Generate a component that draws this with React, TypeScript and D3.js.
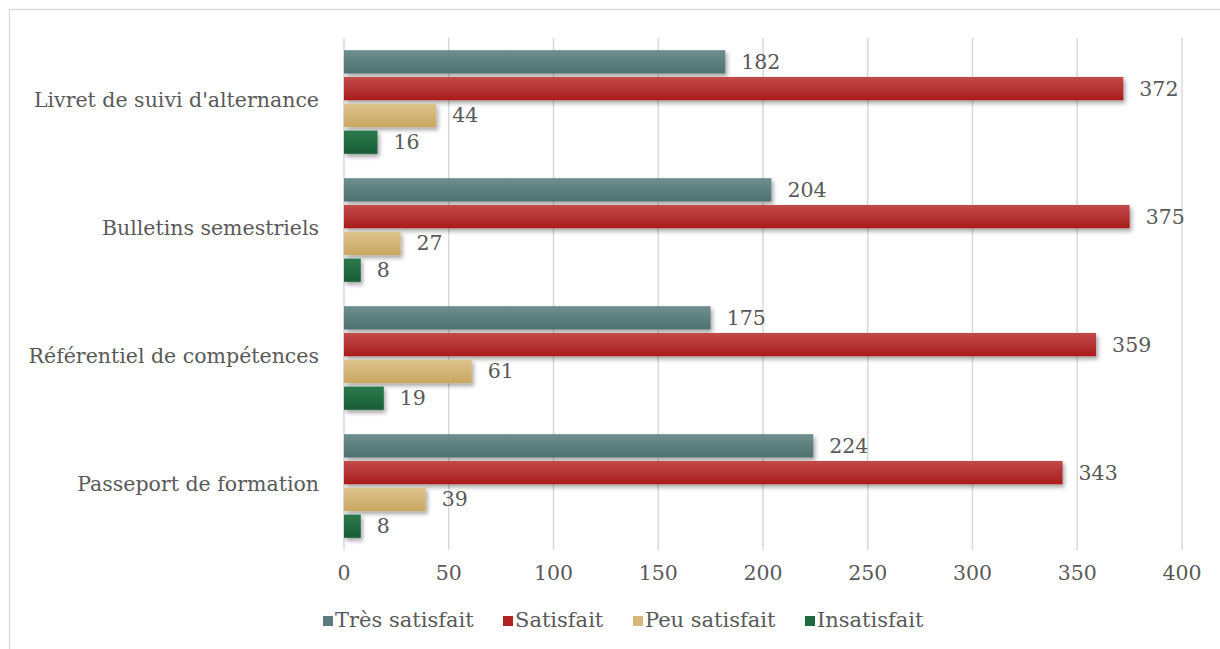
import React from "react";
import * as d3 from "d3";

const categories = ["Livret de suivi d'alternance", "Bulletins semestriels", "Référentiel de compétences", "Passeport de formation"];
const series = ["Très satisfait", "Satisfait", "Peu satisfait", "Insatisfait"];
const tresSatisfait = [182, 204, 175, 224];
const satisfait = [372, 375, 359, 343];
const peuSatisfait = [44, 27, 61, 39];
const insatisfait = [16, 8, 19, 8];
const xTicks = [0, 50, 100, 150, 200, 250, 300, 350, 400];
const colors = [
  ["#6f8f8f", "#4f7070"],
  ["#c34a4a", "#a81c1c"],
  ["#dcc28c", "#c9a762"],
  ["#2a7a4c", "#1a5e38"],
];
const legendColors = ["#5b7b7b", "#b22222", "#d7b878", "#1e6b40"];

const values = [tresSatisfait, satisfait, peuSatisfait, insatisfait];

export default function App() {
  const W = 1220, H = 649;
  const x = d3.scaleLinear().domain([0, 400]).range([344, 1182]);
  const y0 = d3.scaleBand<string>().domain(categories).range([38, 550]).paddingInner(0.19).paddingOuter(0.095);
  const y1 = d3.scaleBand<string>().domain(series).range([0, y0.bandwidth()]).paddingInner(0.13);
  const font = "'DejaVu Serif', serif";
  const textColor = "#595959";
  const fs = 20.5;
  const legendX = [323, 503, 633, 805];
  return (
    <div style={{ position: "absolute", left: 0, top: 0 }}>
      <svg width={W} height={H} style={{ display: "block" }}>
        <defs>
          {colors.map((c, i) => (
            <linearGradient key={i} id={`g${i}`} x1="0" y1="0" x2="0" y2="1">
              <stop offset="0" stopColor={c[0]} />
              <stop offset="1" stopColor={c[1]} />
            </linearGradient>
          ))}
          <filter id="sh" x="-10%" y="-50%" width="130%" height="220%">
            <feDropShadow dx="2" dy="3" stdDeviation="2" floodColor="#000" floodOpacity="0.35" />
          </filter>
        </defs>
        <rect x={0} y={0} width={W} height={H} fill="#fff" />
        <rect x={9.5} y={9.5} width={W} height={H} fill="none" stroke="#d9d9d9" strokeWidth={1.3} />
        {xTicks.map((t) => (
          <line key={t} x1={x(t)} x2={x(t)} y1={38} y2={550} stroke="#d9d9d9" strokeWidth={1.5} />
        ))}
        {categories.map((cat, ci) => (
          <g key={cat} transform={`translate(0,${y0(cat)})`}>
            {series.map((s, si) => {
              const v = values[si][ci];
              const yy = y1(s)!;
              return (
                <g key={s}>
                  <rect x={x(0)} y={yy} width={x(v) - x(0)} height={y1.bandwidth()} fill={`url(#g${si})`} filter="url(#sh)" />
                  <text x={x(v) + 16} y={yy + y1.bandwidth() / 2 + 1.5} dominantBaseline="middle" fontFamily={font} fontSize={fs} fill={textColor}>{v}</text>
                </g>
              );
            })}
            <text x={319} y={y0.bandwidth() / 2} textAnchor="end" dominantBaseline="middle" fontFamily={font} fontSize={fs} fill={textColor}>{cat}</text>
          </g>
        ))}
        {xTicks.map((t) => (
          <text key={t} x={x(t)} y={574} textAnchor="middle" dominantBaseline="middle" fontFamily={font} fontSize={fs} fill={textColor}>{t}</text>
        ))}
        {series.map((s, i) => (
          <g key={s}>
            <rect x={legendX[i]} y={616} width={10} height={10} fill={legendColors[i]} />
            <text x={legendX[i] + 12} y={621} dominantBaseline="middle" fontFamily={font} fontSize={21} fill={textColor}>{s}</text>
          </g>
        ))}
      </svg>
    </div>
  );
}
